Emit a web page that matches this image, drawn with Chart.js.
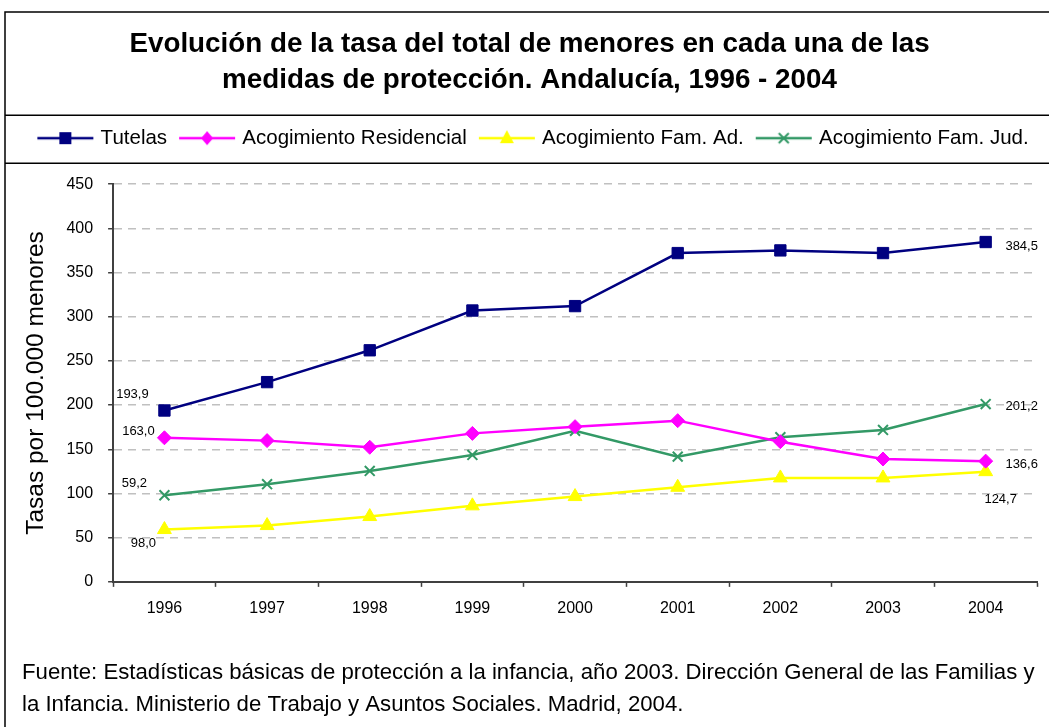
<!DOCTYPE html>
<html lang="es">
<head>
<meta charset="utf-8">
<title>Evolución de la tasa de menores en medidas de protección</title>
<script src="https://cdn.jsdelivr.net/npm/chart.js@4.4.1/dist/chart.umd.min.js"></script>
<style>
  html, body { margin: 0; padding: 0; background: #fff; }
  #marco { position: relative; width: 1049px; height: 727px; }
</style>
</head>
<body>
<div id="marco"><canvas id="grafico"></canvas></div>
<script>
// datos
const anios = ['1996', '1997', '1998', '1999', '2000', '2001', '2002', '2003', '2004'];
const tutelas = [193.9, 226, 262, 307, 312, 372, 375, 372, 384.5];
const residencial = [163.0, 159.8, 152.3, 168, 175.6, 182.4, 158.6, 139, 136.6];
const famAdoptiva = [59.2, 63.7, 73.9, 86, 96.5, 107, 117.6, 117.6, 124.7];
const famJudicial = [98.0, 110.5, 125.5, 143.6, 171, 141.7, 163.6, 171.9, 201.2];
const nombres = ['Tutelas', 'Acogimiento Residencial', 'Acogimiento Fam. Ad.', 'Acogimiento Fam. Jud.'];

// etiquetas de valor tal como aparecen (serie, punto, texto)
const etiquetasTexto = ['193,9', '163,0', '59,2', '98,0', '384,5', '201,2', '136,6', '124,7'];
const etiquetasSerie = [0, 1, 3, 2, 0, 3, 1, 2];
const etiquetasPunto = [0, 0, 0, 0, 8, 8, 8, 8];
const etiquetasDesp = [[-32, -16], [-26, -6], [-30, -12], [-21, 14], [36, 4], [36, 2], [36, 3], [15, 28]];

const fuente = '"Liberation Sans", Arial, sans-serif';
const colores = ['#000080', '#FF00FF', '#FFFF00', '#339966'];
const formas = ['rect', 'rectRot', 'triangle', 'crossRot'];
const radios = [8, 7, 8, 7];

function dibujaMarca(g, forma, x, y, color) {
	g.fillStyle = color;
	g.strokeStyle = color;
	g.beginPath();
	if (forma === 'rect') {
		g.fillRect(x - 6, y - 6, 12, 12);
	} else if (forma === 'rectRot') {
		g.moveTo(x, y - 7); g.lineTo(x + 6, y); g.lineTo(x, y + 7); g.lineTo(x - 6, y);
		g.closePath(); g.fill();
	} else if (forma === 'triangle') {
		g.moveTo(x, y - 8); g.lineTo(x + 7, y + 5); g.lineTo(x - 7, y + 5);
		g.closePath(); g.fill();
	} else {
		g.lineWidth = 2;
		g.moveTo(x - 5, y - 5); g.lineTo(x + 5, y + 5);
		g.moveTo(x + 5, y - 5); g.lineTo(x - 5, y + 5);
		g.stroke();
	}
}

// icono de leyenda: linea con marca, algo desplazado dentro de la caja
function iconoLeyenda(i) {
	const c = document.createElement('canvas');
	c.width = 68; c.height = 20;
	const g = c.getContext('2d');
	g.strokeStyle = colores[i];
	g.lineWidth = 2.5;
	g.beginPath(); g.moveTo(11, 10); g.lineTo(67, 10); g.stroke();
	dibujaMarca(g, formas[i], 39, 10, colores[i]);
	return c;
}
const iconos = [0, 1, 2, 3].map(iconoLeyenda);

// recuadros del marco (titulo, leyenda, grafico)
const marcoPlugin = {
	id: 'marco',
	beforeDraw(chart) {
		const ctx = chart.ctx;
		const y1 = chart.legend.top - 7.75;
		const y2 = chart.legend.bottom + 4.75;
		ctx.save();
		ctx.strokeStyle = '#000';
		ctx.lineWidth = 1.5;
		ctx.strokeRect(5, 12, chart.width + 10, chart.height + 10);
		ctx.beginPath();
		ctx.moveTo(5, y1); ctx.lineTo(chart.width, y1);
		ctx.moveTo(5, y2); ctx.lineTo(chart.width, y2);
		ctx.stroke();
		ctx.restore();
	}
};

const etiquetasPlugin = {
	id: 'etiquetas',
	afterDatasetsDraw(chart) {
		const ctx = chart.ctx;
		ctx.save();
		ctx.font = '13px ' + fuente;
		ctx.fillStyle = '#000';
		ctx.textAlign = 'center';
		ctx.textBaseline = 'middle';
		etiquetasTexto.forEach((t, k) => {
			const p = chart.getDatasetMeta(etiquetasSerie[k]).data[etiquetasPunto[k]];
			ctx.fillText(t, p.x + etiquetasDesp[k][0], p.y + etiquetasDesp[k][1]);
		});
		ctx.restore();
	}
};

const valores = [tutelas, residencial, famAdoptiva, famJudicial];
const data = {
	labels: anios,
	datasets: valores.map((v, i) => ({
		label: nombres[i],
		data: v,
		borderColor: colores[i],
		backgroundColor: colores[i],
		borderWidth: 2.5,
		pointStyle: formas[i],
		pointRadius: radios[i],
		pointHoverRadius: radios[i],
		pointBorderWidth: formas[i] === 'crossRot' ? 2 : 1,
		pointBackgroundColor: colores[i],
		pointBorderColor: colores[i],
		tension: 0
	}))
};

const config = {
	type: 'line',
	data,
	plugins: [marcoPlugin, etiquetasPlugin],
	options: {
		responsive: true,
		maintainAspectRatio: false,
		animation: false,
		layout: { padding: { left: 22, right: 12, top: 12, bottom: 0 } },
		plugins: {
			title: {
				display: true,
				text: ['Evolución de la tasa del total de menores en cada una de las', 'medidas de protección. Andalucía, 1996 - 2004'],
				color: '#000',
				font: { family: fuente, size: 27.8, weight: 'bold', lineHeight: 1.3 },
				padding: { top: 14, bottom: 24.6 }
			},
			subtitle: {
				display: true,
				position: 'bottom',
				align: 'start',
				text: ['Fuente: Estadísticas básicas de protección a la infancia, año 2003. Dirección General de las Familias y', 'la Infancia. Ministerio de Trabajo y Asuntos Sociales. Madrid, 2004.'],
				color: '#000',
				font: { family: fuente, size: 22.2, lineHeight: 1.44 },
				padding: { top: 27, bottom: 6 }
			},
			legend: {
				display: true,
				labels: {
					color: '#000',
					font: { family: fuente, size: 20.5 },
					padding: 5,
					usePointStyle: true,
					pointStyleWidth: 60,
					generateLabels(chart) {
						const items = Chart.defaults.plugins.legend.labels.generateLabels(chart);
						items.forEach((it, i) => { it.pointStyle = iconos[i]; });
						return items;
					}
				}
			},
			tooltip: { enabled: false }
		},
		scales: {
			x: {
				offset: true,
				grid: { display: true, offset: true, drawOnChartArea: false, tickLength: 5, tickColor: '#404040', tickWidth: 1.5 },
				border: { color: '#404040', width: 2 },
				ticks: { color: '#000', font: { family: fuente, size: 16 }, padding: 12 }
			},
			// separacion entre la leyenda y el area del grafico
			arriba: {
				type: 'category',
				position: 'top',
				grid: { display: false, drawTicks: false },
				border: { display: false },
				ticks: { display: false },
				afterFit(scale) { scale.height = 25.75; }
			},
			y: {
				min: 0,
				max: 450,
				ticks: { stepSize: 50, color: '#000', font: { family: fuente, size: 16 }, padding: 15 },
				grid: {
					color: c => c.tick && c.tick.value === 0 ? 'rgba(0,0,0,0)' : '#c0c0c0',
					lineWidth: 1.5,
					tickLength: 5,
					tickColor: '#404040',
					tickWidth: 1.5
				},
				border: { color: '#404040', width: 2, dash: [8, 6] },
				title: {
					display: true,
					text: 'Tasas por 100.000 menores',
					color: '#000',
					font: { family: fuente, size: 24.5, lineHeight: 1.2 },
					padding: { top: 0, bottom: 0 }
				}
			}
		}
	}
};

new Chart(document.getElementById('grafico'), config);
</script>
</body>
</html>
